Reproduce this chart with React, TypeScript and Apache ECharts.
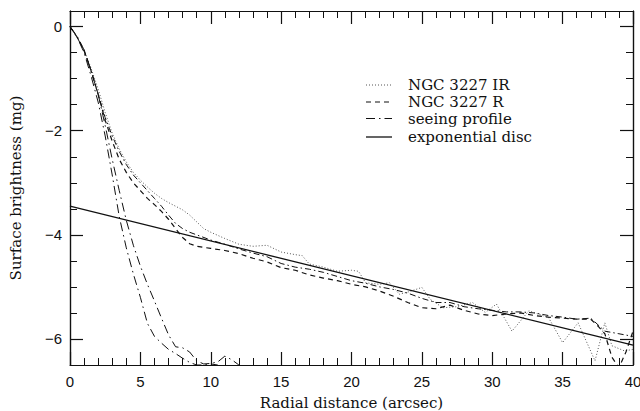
import React, { useEffect, useRef } from "react";
import * as echarts from "echarts";

// ---- data ----
const irX = [0, 0.5, 1, 1.5, 2, 2.5, 3, 3.5, 4, 4.5, 5, 5.5, 6, 6.5, 7, 7.5, 8, 8.5, 9, 9.5, 10, 11, 12, 13, 14, 15, 16, 16.5, 17, 18, 19, 20, 20.5, 21, 22, 22.7, 23.4, 24, 25, 25.6, 26.5, 27.5, 28.6, 29.5, 30.3, 31.4, 32.6, 34, 35, 36.1, 37.3, 38, 38.5, 39.4, 40];
const irY = [0, -0.2, -0.45, -0.8, -1.2, -1.65, -2.05, -2.35, -2.6, -2.8, -2.95, -3.08, -3.2, -3.3, -3.38, -3.45, -3.52, -3.62, -3.75, -3.88, -3.95, -4.07, -4.18, -4.22, -4.2, -4.33, -4.38, -4.4, -4.56, -4.62, -4.7, -4.68, -4.7, -4.92, -4.95, -4.92, -5.14, -5.1, -5.01, -5.24, -5.4, -5.38, -5.3, -5.49, -5.33, -5.85, -5.46, -5.59, -6.07, -5.69, -6.42, -5.69, -6.13, -6.23, -6.2];

const rX = [0, 0.5, 1, 1.5, 2, 2.5, 3, 3.5, 4, 4.5, 5, 5.5, 6, 6.5, 7, 7.5, 8, 8.5, 9, 10, 11, 12, 13, 14, 15, 16, 17, 18, 19, 20, 21, 22, 23, 24, 25, 26, 27, 28, 29, 30, 31, 32, 33, 34, 35, 36, 37, 37.5, 38, 38.5, 39, 39.5, 40];
const rY = [0, -0.2, -0.45, -0.85, -1.3, -1.8, -2.2, -2.55, -2.8, -3.0, -3.15, -3.3, -3.42, -3.55, -3.7, -3.88, -4.05, -4.17, -4.22, -4.26, -4.3, -4.36, -4.45, -4.52, -4.63, -4.68, -4.77, -4.83, -4.88, -4.95, -5.0, -5.08, -5.18, -5.3, -5.4, -5.42, -5.35, -5.45, -5.52, -5.55, -5.52, -5.5, -5.55, -5.58, -5.6, -5.62, -5.62, -5.75, -5.9, -6.35, -6.55, -6.25, -5.85];

const midX = [0, 0.5, 1, 1.5, 2, 2.5, 3, 3.5, 4, 4.5, 5, 5.5, 6, 6.5, 7, 7.5, 8, 8.5, 9, 10, 11, 12, 13, 14, 15, 16, 17, 18, 19, 20, 21, 22, 23, 24, 25, 26, 27, 28, 29, 30, 31, 32, 33, 34, 35, 36, 37, 38, 39, 40];
const midY = [0, -0.2, -0.47, -0.85, -1.3, -1.75, -2.1, -2.4, -2.65, -2.85, -3.0, -3.15, -3.3, -3.45, -3.62, -3.78, -3.88, -3.95, -4.0, -4.1, -4.18, -4.27, -4.35, -4.42, -4.55, -4.62, -4.66, -4.72, -4.8, -4.88, -4.93, -5.0, -5.05, -5.12, -5.22, -5.3, -5.3, -5.38, -5.42, -5.45, -5.48, -5.48, -5.5, -5.55, -5.58, -5.62, -5.6, -5.85, -5.9, -5.95];

const seeAX = [0, 0.5, 1, 1.5, 2, 2.5, 3, 3.5, 4, 4.5, 5, 5.5, 6, 6.5, 7, 7.5, 8, 8.5, 9, 9.5, 10, 10.5];
const seeAY = [0, -0.2, -0.5, -0.95, -1.45, -2.1, -2.85, -3.65, -4.25, -4.75, -5.2, -5.7, -5.95, -6.08, -6.2, -6.28, -6.37, -6.45, -6.5, -6.5, -6.48, -6.5];

const seeBX = [0, 0.5, 1, 1.5, 2, 2.5, 3, 3.5, 4, 4.5, 5, 5.5, 6, 6.5, 7, 7.5, 8, 8.5, 9, 9.5, 10, 10.5, 11, 11.5, 12];
const seeBY = [0, -0.18, -0.45, -0.85, -1.3, -1.9, -2.55, -3.15, -3.72, -4.2, -4.6, -4.95, -5.27, -5.6, -5.92, -6.15, -6.17, -6.25, -6.42, -6.48, -6.47, -6.44, -6.33, -6.4, -6.5];

const discX = [0, 40];
const discY = [-3.45, -6.12];

const xMajorTicks = [0, 5, 10, 15, 20, 25, 30, 35, 40];
const yMajorTicks = [-6, -4, -2, 0];
const legendNames = ["NGC 3227 IR", "NGC 3227 R", "seeing profile", "exponential disc"];

const zip = (xs: number[], ys: number[]) => xs.map((x, i) => [x, ys[i]]);

const SERIF = "DejaVu Serif";
const SANS = "Liberation Sans";
const INK = "#111";
const DOT = "#555";

export default function App() {
  const ref = useRef<HTMLDivElement>(null);

  useEffect(() => {
    document.body.style.margin = "0";
    const chart = echarts.init(ref.current!, null, { renderer: "svg" });

    const baseX = {
      type: "value" as const,
      min: 0,
      max: 40,
      interval: 5,
      splitLine: { show: false },
      minorSplitLine: { show: false },
      axisLine: { show: true, onZero: false, lineStyle: { color: INK, width: 1.2 } },
      axisTick: { show: true, inside: true, length: 13, lineStyle: { color: INK, width: 1.2 } },
      minorTick: { show: true, splitNumber: 5, length: 7, lineStyle: { color: INK, width: 1 } },
    };

    const yBase = {
      type: "value" as const,
      min: -6.5,
      max: 0.3,
      splitLine: { show: false },
      axisLine: { show: true, onZero: false, lineStyle: { color: INK, width: 1.2 } },
    };

    const yMajor = (pos: "left" | "right", labels: boolean) => ({
      ...yBase,
      position: pos,
      axisTick: { show: true, inside: true, length: 13, customValues: yMajorTicks, lineStyle: { color: INK, width: 1.2 } },
      axisLabel: labels
        ? {
            show: true,
            customValues: yMajorTicks,
            margin: 8,
            fontFamily: SANS,
            fontSize: 15,
            color: INK,
            formatter: (v: number) => (v < 0 ? "\u2212" + Math.abs(v) : String(v)),
          }
        : { show: false },
      ...(labels
        ? {
            name: "Surface brightness (mg)",
            nameLocation: "middle" as const,
            nameGap: 47,
            nameTextStyle: { fontFamily: SERIF, fontSize: 15, color: INK },
          }
        : {}),
    });

    const yMinor = (pos: "left" | "right") => ({
      ...yBase,
      position: pos,
      interval: 0.5,
      axisTick: { show: true, inside: true, length: 7, lineStyle: { color: INK, width: 1 } },
      axisLabel: { show: false },
    });

    const line = (name: string, data: number[][], type: any, color: string, width: number) => ({
      type: "line" as const,
      name,
      data,
      showSymbol: false,
      symbol: "none",
      clip: true,
      lineStyle: { color, width, type },
      emphasis: { disabled: true },
    });

    const legendStyles: { dash: number[] | null; color: string; width: number }[] = [
      { dash: [1, 2], color: DOT, width: 1 },
      { dash: [5, 4], color: INK, width: 1.2 },
      { dash: [9, 4, 1.5, 4], color: INK, width: 1 },
      { dash: null, color: INK, width: 1.3 },
    ];
    const rowsY = [85, 102, 118.5, 137];

    const graphic: any[] = [];
    legendNames.forEach((n, i) => {
      graphic.push({
        type: "line",
        shape: { x1: 366, y1: rowsY[i], x2: 392, y2: rowsY[i] },
        style: { stroke: legendStyles[i].color, lineWidth: legendStyles[i].width, lineDash: legendStyles[i].dash || undefined },
        silent: true,
      });
      graphic.push({
        type: "text",
        x: 408,
        y: rowsY[i],
        style: { text: n, fontFamily: SERIF, fontSize: 15, fill: INK, verticalAlign: "middle" },
        silent: true,
      });
    });

    chart.setOption({
      animation: false,
      backgroundColor: "#fff",
      grid: { left: 70, right: 7, top: 11, bottom: 46, containLabel: false, outerBoundsMode: "none" },
      xAxis: [
        {
          ...baseX,
          position: "bottom",
          axisLabel: {
            show: true,
            margin: 9,
            fontFamily: SANS,
            fontSize: 15,
            color: INK,
            customValues: xMajorTicks,
          },
          name: "Radial distance (arcsec)",
          nameLocation: "middle",
          nameGap: 30,
          nameTextStyle: { fontFamily: SERIF, fontSize: 15, color: INK },
        },
        { ...baseX, position: "top", axisLabel: { show: false } },
      ],
      yAxis: [yMajor("left", true), yMinor("left"), yMajor("right", false), yMinor("right")],
      legend: { show: false, data: legendNames },
      tooltip: { show: false },
      series: [
        line("NGC 3227 IR", zip(irX, irY), [1, 2], DOT, 1),
        line("NGC 3227 R", zip(rX, rY), [5, 4], INK, 1.2),
        line("NGC 3227 R (2)", zip(midX, midY), [6, 3, 1.5, 3], INK, 1),
        line("seeing profile", zip(seeAX, seeAY), [9, 4, 1.5, 4], INK, 1),
        line("seeing profile", zip(seeBX, seeBY), [9, 4, 1.5, 4], INK, 1),
        line("exponential disc", zip(discX, discY), "solid", INK, 1.3),
      ],
      graphic,
    });

    return () => chart.dispose();
  }, []);

  return <div ref={ref} style={{ position: "fixed", left: 0, top: 0, width: 640, height: 411 }} />;
}
